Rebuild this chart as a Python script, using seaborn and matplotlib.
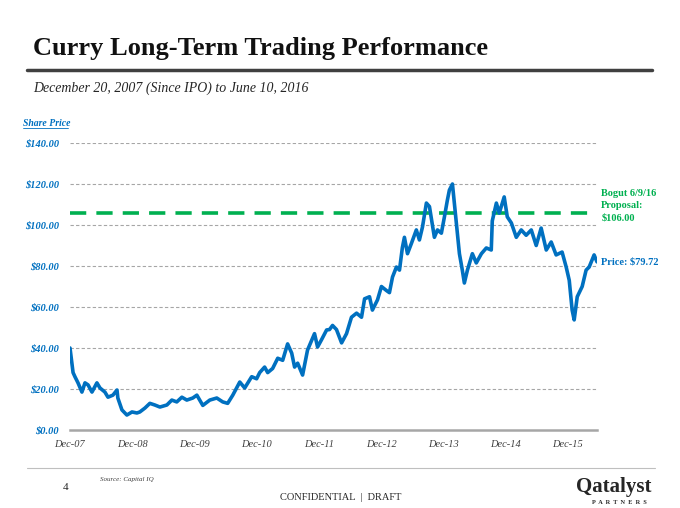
import pandas as pd
import matplotlib.pyplot as plt
from matplotlib.lines import Line2D
import seaborn as sns

dates = ['2007-12-20', '2007-12-26', '2008-01-07', '2008-01-18', '2008-02-05', '2008-02-28',
         '2008-03-17', '2008-04-04', '2008-04-27', '2008-05-26', '2008-06-13', '2008-07-12',
         '2008-07-30', '2008-08-28', '2008-09-21', '2008-09-26', '2008-10-20', '2008-11-18',
         '2008-12-18', '2009-01-16', '2009-02-02', '2009-03-04', '2009-04-02', '2009-05-01',
         '2009-05-31', '2009-07-11', '2009-08-09', '2009-09-07', '2009-10-07', '2009-11-05',
         '2009-12-10', '2010-01-03', '2010-02-07', '2010-03-20', '2010-04-30', '2010-06-04',
         '2010-07-03', '2010-08-02', '2010-09-12', '2010-10-11', '2010-11-21', '2010-12-20',
         '2011-01-07', '2011-02-05', '2011-02-23', '2011-03-24', '2011-04-23', '2011-05-22',
         '2011-06-20', '2011-07-14', '2011-07-31', '2011-08-18', '2011-09-16', '2011-10-15',
         '2011-11-25', '2011-12-13', '2012-01-05', '2012-02-04', '2012-02-21', '2012-03-10',
         '2012-04-02', '2012-05-02', '2012-05-31', '2012-06-29', '2012-07-29', '2012-08-27',
         '2012-09-14', '2012-10-13', '2012-10-30', '2012-11-29', '2012-12-22', '2013-01-21',
         '2013-02-07', '2013-02-25', '2013-03-20', '2013-04-07', '2013-04-24', '2013-05-06',
         '2013-05-24', '2013-06-16', '2013-07-15', '2013-08-02', '2013-08-20', '2013-09-12',
         '2013-09-30', '2013-10-29', '2013-11-16', '2013-12-09', '2013-12-27', '2014-01-13',
         '2014-01-25', '2014-02-12', '2014-03-07', '2014-03-25', '2014-04-11', '2014-04-23',
         '2014-05-11', '2014-06-09', '2014-07-02', '2014-08-01', '2014-08-30', '2014-09-28',
         '2014-10-04', '2014-10-28', '2014-11-14', '2014-12-13', '2014-12-31', '2015-01-24',
         '2015-02-22', '2015-03-23', '2015-04-21', '2015-05-21', '2015-06-19', '2015-07-18',
         '2015-08-17', '2015-09-15', '2015-10-14', '2015-11-18', '2015-12-12', '2015-12-30',
         '2016-01-16', '2016-01-28', '2016-02-15', '2016-03-15', '2016-04-07', '2016-04-25',
         '2016-05-12', '2016-05-24', '2016-06-10']
prices = [40, 36, 28, 26, 23, 18.5,
          23, 22, 18.5, 23, 20.5, 18.5,
          16, 17, 19.5, 15.6, 9.8, 7.3,
          8.8, 8.3, 8.8, 10.7, 13, 12.2,
          11.2, 12.2, 14.6, 13.7, 16, 14.6,
          15.6, 17, 12, 14.6, 15.6, 13.7,
          13, 17, 23.4, 20.5, 26, 25,
          28, 30.7, 28, 30, 35, 34,
          42, 37.5, 30.7, 32.6, 26.8, 39,
          47, 40.5, 44, 48.8, 49, 51,
          49, 42.5, 47, 55, 57, 55,
          64, 65, 58.5, 63.5, 70, 68,
          67, 74.6, 79.5, 78, 89, 94,
          86, 91, 97.6, 92.7, 99, 110.7,
          109, 94, 97.6, 96, 104, 112,
          117, 120, 101, 86, 78, 71.7,
          78, 86, 81.5, 86, 88.8, 87.8,
          102, 110.7, 105.8, 113.7, 104, 101,
          94, 97.6, 95, 97.6, 90, 98.5,
          87.8, 91.7, 85.4, 86.8, 79.5, 73,
          58.5, 53.7, 65, 70, 78, 79.5,
          83, 85.4, 82]

proposal = 106.00
current_price = 79.72
tick_dates = ['2007-12-20', '2008-12-20', '2009-12-20', '2010-12-20', '2011-12-20',
              '2012-12-20', '2013-12-20', '2014-12-20', '2015-12-20']
tick_labels = ['Dec-07', 'Dec-08', 'Dec-09', 'Dec-10', 'Dec-11',
               'Dec-12', 'Dec-13', 'Dec-14', 'Dec-15']
y_ticks = [0, 20, 40, 60, 80, 100, 120, 140]

df = pd.DataFrame({'date': pd.to_datetime(dates), 'price': prices})

sns.set_style('white')
plt.rcParams['font.family'] = ['Liberation Serif', 'DejaVu Serif']

blue = '#0070C0'
green = '#00B050'

fig = plt.figure(figsize=(6.8, 5.08), dpi=100)
ax = fig.add_axes([70 / 680, 1 - 430 / 508, 527 / 680, 287 / 508])

for v in y_ticks[1:]:
    ax.axhline(v, color='#A6A6A6', lw=0.8, ls=(0, (3, 2)), zorder=1)

ax.axhline(proposal, color=green, lw=2.6, ls=(0, (4.5, 2.8)), zorder=2)
sns.lineplot(data=df, x='date', y='price', color=blue, lw=2.6, ax=ax, zorder=3)

ax.set_xlim(pd.Timestamp(dates[0]), pd.Timestamp(dates[-1]))
ax.set_ylim(0, 140)
ax.set_xlabel('')
ax.set_ylabel('')

for s in ['top', 'right', 'left']:
    ax.spines[s].set_visible(False)
ax.spines['bottom'].set_color('#A6A6A6')
ax.spines['bottom'].set_linewidth(1.8)

ax.set_xticks(pd.to_datetime(tick_dates))
ax.set_xticklabels(tick_labels, fontsize=7.5, style='italic', color='#404040')
ax.tick_params(axis='x', direction='out', length=4, width=1, color='#A6A6A6', pad=3)
ax.set_yticks(y_ticks)
ax.set_yticklabels([f'${v:.2f}' for v in y_ticks], fontsize=7.5, style='italic',
                   weight='bold', color=blue)
ax.tick_params(axis='y', length=0, pad=8)

# annotations on the right
ax.text(1.008, 0.84, 'Bogut 6/9/16\nProposal:\n$106.00', transform=ax.transAxes,
        color=green, fontsize=7.5, weight='bold', va='top', linespacing=1.5)
ax.text(1.008, current_price / 140 + 0.015, f'Price: ${current_price:.2f}',
        transform=ax.transAxes, color=blue, fontsize=7.5, weight='bold', va='center')

# header
fig.text(33 / 680, 1 - 48 / 508, 'Curry Long-Term Trading Performance', fontsize=19,
         weight='bold', va='center', color='#111111')
fig.add_artist(Line2D([27 / 680, 652 / 680], [1 - 70 / 508] * 2, color='#404040', lw=2.5))
fig.text(33 / 680, 1 - 88 / 508, 'December 20, 2007 (Since IPO) to June 10, 2016',
         fontsize=10, style='italic', va='center', color='#262626')
fig.text(23 / 680, 1 - 123 / 508, 'Share Price', fontsize=7, style='italic',
         weight='bold', color=blue, va='center')
fig.add_artist(Line2D([23 / 680, 68 / 680], [1 - 128 / 508] * 2, color=blue, lw=0.6))

# footer
fig.add_artist(Line2D([27 / 680, 655 / 680], [1 - 468 / 508] * 2, color='#BFBFBF', lw=0.8))
fig.text(100 / 680, 1 - 479 / 508, 'Source: Capital IQ', fontsize=5, style='italic',
         color='#404040', va='center')
fig.text(63 / 680, 1 - 488 / 508, '4', fontsize=8, va='center')
fig.text(341 / 680, 1 - 497 / 508, 'CONFIDENTIAL  |  DRAFT', fontsize=7.5, ha='center',
         va='center')
fig.text(614 / 680, 1 - 487 / 508, 'Qatalyst', fontsize=15, weight='bold', ha='center',
         va='center')
fig.text(619 / 680, 1 - 502 / 508, 'P  A  R  T  N  E  R  S', fontsize=4.5, weight='bold',
         ha='center', va='center')

fig.savefig('out.png', dpi=100)
